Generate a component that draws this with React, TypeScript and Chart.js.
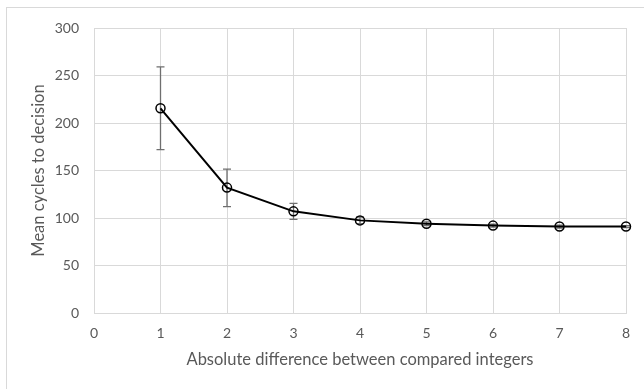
import React, { useEffect, useRef } from "react";
import { Chart, registerables } from "chart.js";

Chart.register(...registerables);

const differences = [1, 2, 3, 4, 5, 6, 7, 8];
const meanCycles = [215.5, 132, 107, 97.5, 94, 92, 91, 91];
const errUpper = [259, 151.5, 115.5, 101, 96, 93.5, 92.5, 92];
const errLower = [172, 112, 98.5, 94, 92, 90.5, 89.5, 90];
const yTicks = [0, 50, 100, 150, 200, 250, 300];
const xTitle = "Absolute difference between compared integers";
const yTitle = "Mean cycles to decision";

const FONT = "Lato, 'Open Sans', sans-serif";
const TEXT = "#595959";
const GRID = "#d9d9d9";

const errorBarPlugin = {
  id: "errorBars",
  beforeDatasetsDraw(chart: any) {
    const { ctx, scales } = chart;
    const xs = scales.x;
    const ys = scales.y;
    ctx.save();
    ctx.strokeStyle = "#6f6f6f";
    ctx.lineWidth = 1.3;
    const cap = 4;
    differences.forEach((d, i) => {
      const px = xs.getPixelForValue(d);
      const top = ys.getPixelForValue(errUpper[i]);
      const bot = ys.getPixelForValue(errLower[i]);
      ctx.beginPath();
      ctx.moveTo(px, top);
      ctx.lineTo(px, bot);
      ctx.moveTo(px - cap, top);
      ctx.lineTo(px + cap, top);
      ctx.moveTo(px - cap, bot);
      ctx.lineTo(px + cap, bot);
      ctx.stroke();
    });
    ctx.restore();
  },
};

export default function App() {
  const ref = useRef<HTMLCanvasElement | null>(null);

  useEffect(() => {
    if (!ref.current) return;
    const chart = new Chart(ref.current, {
      type: "line",
      data: {
        datasets: [
          {
            data: differences.map((d, i) => ({ x: d, y: meanCycles[i] })),
            borderColor: "#000000",
            borderWidth: 2,
            pointRadius: 4.5,
            pointBorderWidth: 1.5,
            pointBorderColor: "#000000",
            pointBackgroundColor: "rgba(0,0,0,0)",
            tension: 0,
            fill: false,
            clip: false,
          } as any,
        ],
      },
      options: {
        animation: false,
        responsive: false,
        maintainAspectRatio: false,
        layout: { padding: { left: 0, right: 18, top: 28, bottom: 0 } },
        plugins: {
          legend: { display: false },
          tooltip: { enabled: false },
        },
        scales: {
          x: {
            type: "linear",
            min: 0,
            max: 8,
            afterFit(scale: any) {
              scale.height = 76;
            },
            ticks: {
              stepSize: 1,
              color: TEXT,
              padding: 12,
              font: { family: FONT, size: 14 },
            },
            grid: { color: GRID, drawTicks: false },
            border: { color: GRID },
            title: {
              display: true,
              text: xTitle,
              color: TEXT,
              font: { family: FONT, size: 16.5 },
              padding: { top: 0, bottom: 19 },
            },
          },
          y: {
            type: "linear",
            min: 0,
            max: 300,
            afterFit(scale: any) {
              scale.width = 94;
            },
            afterBuildTicks(scale: any) {
              scale.ticks = yTicks.map((v) => ({ value: v }));
            },
            ticks: {
              color: TEXT,
              padding: 15,
              font: { family: FONT, size: 14 },
            },
            grid: { color: GRID, drawTicks: false },
            border: { color: GRID },
            title: {
              display: true,
              text: yTitle,
              color: TEXT,
              font: { family: FONT, size: 16.5 },
              padding: { top: 29, bottom: 0 },
            },
          },
        },
      },
      plugins: [errorBarPlugin],
    });
    return () => chart.destroy();
  }, []);

  return (
    <div
      style={{
        position: "fixed",
        left: 0,
        top: 0,
        width: 644,
        height: 389,
        background: "#ffffff",
        overflow: "hidden",
      }}
    >
      <div
        style={{
          position: "absolute",
          left: 6,
          top: 7,
          width: 700,
          height: 450,
          border: "1px solid #d9d9d9",
          boxSizing: "border-box",
        }}
      />
      <canvas
        ref={ref}
        width={644}
        height={389}
        style={{ position: "absolute", left: 0, top: 0, width: 644, height: 389 }}
      />
    </div>
  );
}
